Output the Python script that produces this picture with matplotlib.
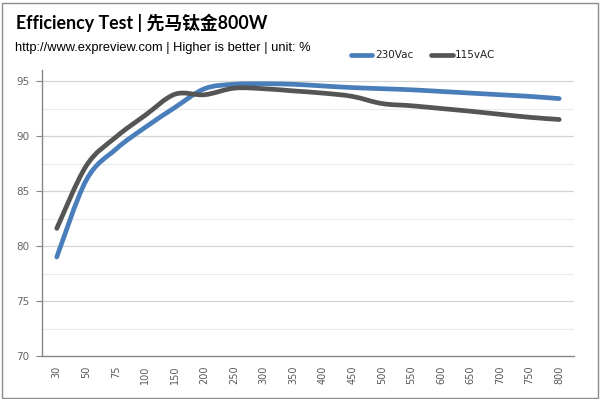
import matplotlib
matplotlib.use("Agg")
import matplotlib.pyplot as plt
from matplotlib.patches import Rectangle, PathPatch
from matplotlib.path import Path
from matplotlib.lines import Line2D

categories = ["30", "50", "75", "100", "150", "200", "250", "300", "350", "400",
              "450", "500", "550", "600", "650", "700", "750", "800"]
v230 = [79.0, 86.0, 88.8, 90.8, 92.6, 94.3, 94.7, 94.75, 94.7, 94.55,
        94.4, 94.3, 94.2, 94.05, 93.9, 93.75, 93.6, 93.4]
v115 = [81.6, 87.3, 89.9, 91.9, 93.8, 93.75, 94.35, 94.3, 94.1, 93.9,
        93.6, 92.95, 92.75, 92.5, 92.25, 91.97, 91.7, 91.5]
series_names = ["230Vac", "115vAC"]
y_ticks = [70, 75, 80, 85, 90, 95]
title = "Efficiency Test | 先马钛金800W"
subtitle = "http://www.expreview.com | Higher is better | unit: %"

plt.rcParams['font.family'] = ['DejaVu Sans']


def smooth_path(xs, ys):
    """Excel-style smoothed line: cubic Bezier through the data points."""
    pts = list(zip(xs, ys))
    n = len(pts)
    verts = [pts[0]]
    codes = [Path.MOVETO]
    for i in range(n - 1):
        p0 = pts[i - 1] if i > 0 else pts[i]
        p1 = pts[i]
        p2 = pts[i + 1]
        p3 = pts[i + 2] if i + 2 < n else pts[i + 1]
        c1 = (p1[0] + (p2[0] - p0[0]) / 6.0, p1[1] + (p2[1] - p0[1]) / 6.0)
        c2 = (p2[0] - (p3[0] - p1[0]) / 6.0, p2[1] - (p3[1] - p1[1]) / 6.0)
        verts += [c1, c2, p2]
        codes += [Path.CURVE4] * 3
    return Path(verts, codes)


fig = plt.figure(figsize=(6.0, 3.99), dpi=100)
fig.patch.set_facecolor("white")
fig.patches.append(Rectangle((1.5/600, 1.5/399), 596/600, 395/399, transform=fig.transFigure,
                             fill=False, edgecolor="#8c8c8c", linewidth=1.0))

ax = fig.add_axes([42/600, (399-356)/399, (574-42)/600, (356-70)/399])
x = list(range(len(categories)))
blue = "#4a7ebb"
gray = "#555555"
for vals, col in [(v230, blue), (v115, gray)]:
    ax.add_patch(PathPatch(smooth_path(x, vals), facecolor="none", edgecolor=col,
                           linewidth=3.4, capstyle="round", joinstyle="round", zorder=3))

ax.set_xlim(-0.5, len(categories) - 0.5)
ax.set_ylim(70, 96)
for yv in [72.5, 77.5, 82.5, 87.5, 92.5]:
    ax.axhline(yv, color="#ebebeb", linewidth=0.8, zorder=1)
for yv in [75, 80, 85, 90, 95]:
    ax.axhline(yv, color="#d4d4d4", linewidth=0.9, zorder=1)

ax.set_yticks(y_ticks)
ax.set_yticklabels([str(v) for v in y_ticks], fontsize=7.5, color="#666666", family="DejaVu Sans")
ax.tick_params(axis="y", length=4, width=0.8, color="#868686", pad=5, direction="out")
ax.set_xticks(x)
ax.set_xticklabels(categories, rotation=90, fontsize=7, color="#595959", family="DejaVu Sans")
ax.tick_params(axis="x", length=0, pad=7)

for s in ["top", "right"]:
    ax.spines[s].set_visible(False)
for s in ["left", "bottom"]:
    ax.spines[s].set_color("#868686")
    ax.spines[s].set_linewidth(1.0)

fig.text(16/600, 1 - 23/399, title, fontsize=12.8, fontweight="bold",
         family=["Lato", "Noto Sans CJK SC", "DejaVu Sans"], va="center", ha="left", color="black")
fig.text(15/600, 1 - 48/399, subtitle, fontsize=9.3, family="Liberation Sans",
         va="center", ha="left", color="black")

# legend
ly = 1 - 55/399
fig.lines.append(Line2D([351/600, 372/600], [ly, ly], transform=fig.transFigure,
                        color=blue, linewidth=3.4, solid_capstyle="round"))
fig.text(375/600, ly, series_names[0], fontsize=7.5, family="DejaVu Sans", va="center", ha="left", color="#222222")
fig.lines.append(Line2D([431/600, 453/600], [ly, ly], transform=fig.transFigure,
                        color=gray, linewidth=3.4, solid_capstyle="round"))
fig.text(455/600, ly, series_names[1], fontsize=7.5, family="DejaVu Sans", va="center", ha="left", color="#222222")

fig.savefig("out.png", dpi=100, facecolor="white")
